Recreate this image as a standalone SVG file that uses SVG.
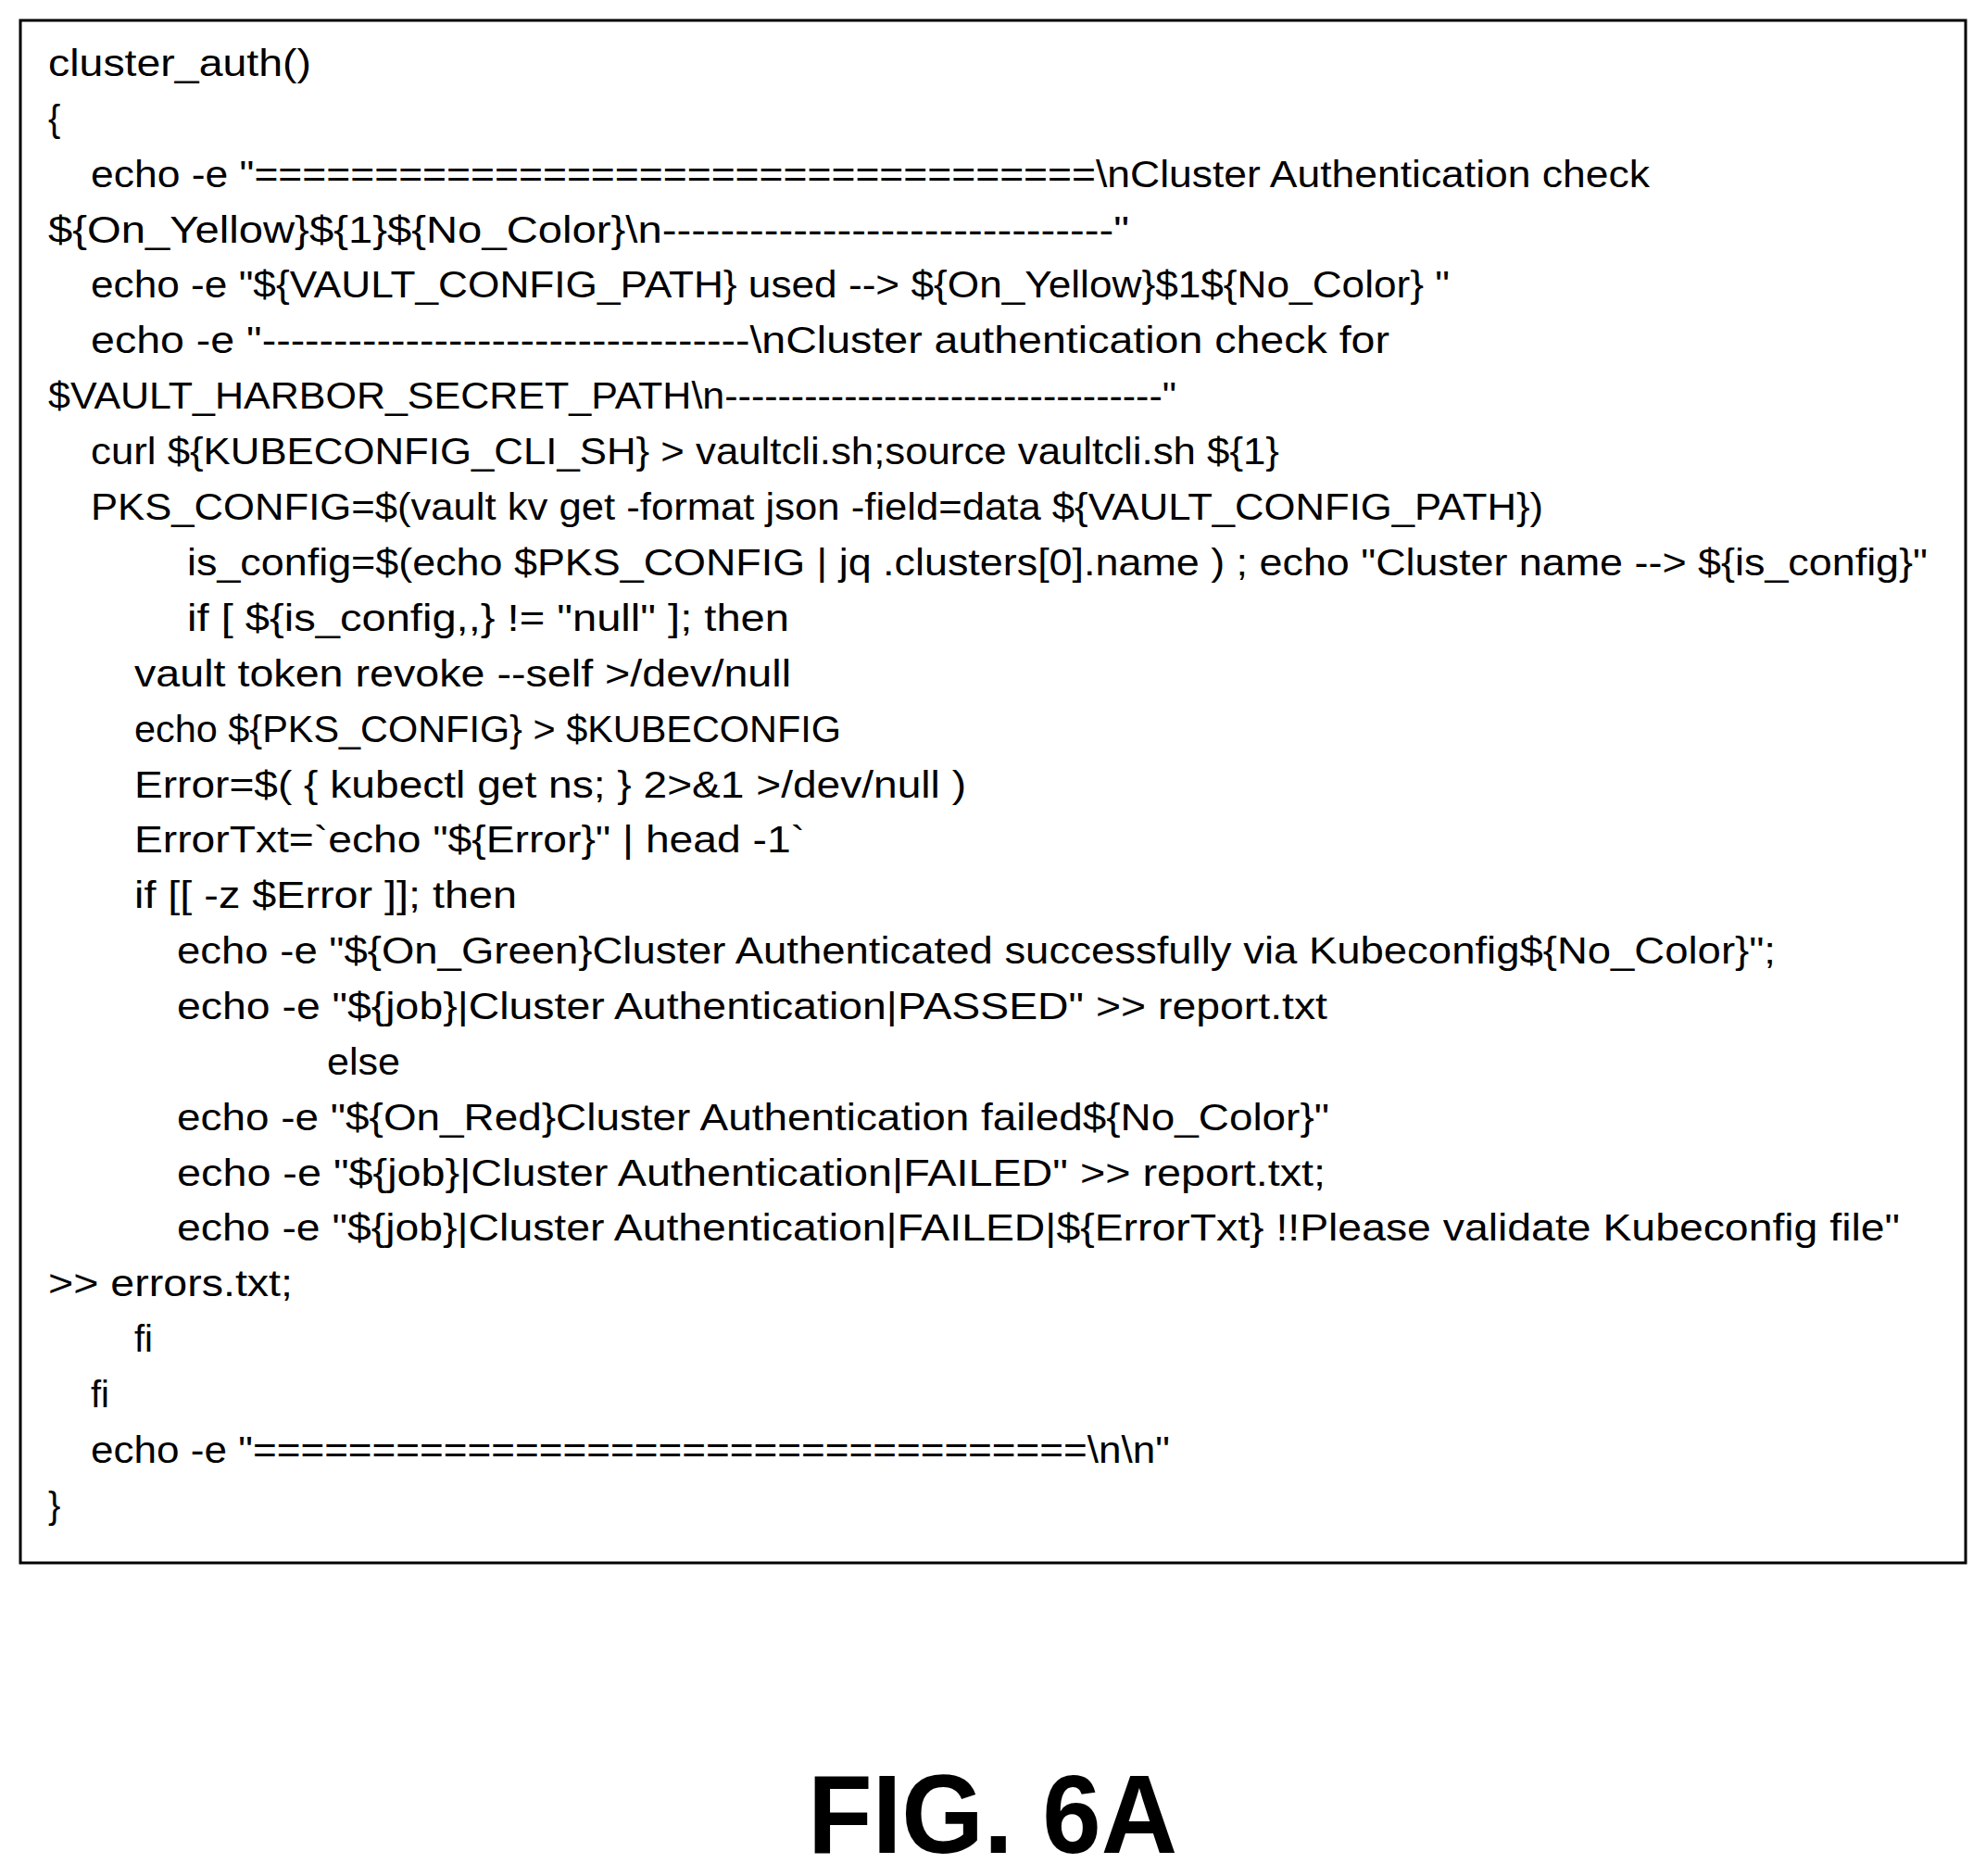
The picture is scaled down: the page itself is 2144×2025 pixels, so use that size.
<svg xmlns="http://www.w3.org/2000/svg" width="2144" height="2025" viewBox="0 0 2144 2025">
<style>
.c{font-family:"Liberation Sans",Arial,sans-serif;font-size:40px;fill:#000}
.f{font-family:"Liberation Sans",Arial,sans-serif;font-size:120px;font-weight:bold;fill:#000}
</style>
<rect width="2144" height="2025" fill="#fff"/>
<g id="code-box">
<rect x="22" y="22" width="2100" height="1665" fill="none" stroke="#000" stroke-width="3"/>
<text class="c" x="52" y="82" textLength="284" lengthAdjust="spacingAndGlyphs">cluster_auth()</text>
<text class="c" x="52" y="142">{</text>
<text class="c" x="98" y="202" textLength="1683" lengthAdjust="spacingAndGlyphs">echo -e "===================================\nCluster Authentication check</text>
<text class="c" x="52" y="262" textLength="1167" lengthAdjust="spacingAndGlyphs">${On_Yellow}${1}${No_Color}\n-------------------------------"</text>
<text class="c" x="98" y="321" textLength="1467" lengthAdjust="spacingAndGlyphs">echo -e "${VAULT_CONFIG_PATH} used --&gt; ${On_Yellow}$1${No_Color} "</text>
<text class="c" x="98" y="381" textLength="1402" lengthAdjust="spacingAndGlyphs">echo -e "----------------------------------\nCluster authentication check for</text>
<text class="c" x="52" y="441" textLength="1218" lengthAdjust="spacingAndGlyphs">$VAULT_HARBOR_SECRET_PATH\n---------------------------------"</text>
<text class="c" x="98" y="501" textLength="1283" lengthAdjust="spacingAndGlyphs">curl ${KUBECONFIG_CLI_SH} &gt; vaultcli.sh;source vaultcli.sh ${1}</text>
<text class="c" x="98" y="561" textLength="1568" lengthAdjust="spacingAndGlyphs">PKS_CONFIG=$(vault kv get -format json -field=data ${VAULT_CONFIG_PATH})</text>
<text class="c" x="202" y="621" textLength="1879" lengthAdjust="spacingAndGlyphs">is_config=$(echo $PKS_CONFIG | jq .clusters[0].name ) ; echo "Cluster name --&gt; ${is_config}"</text>
<text class="c" x="202" y="681" textLength="650" lengthAdjust="spacingAndGlyphs">if [ ${is_config,,} != "null" ]; then</text>
<text class="c" x="145" y="741" textLength="709" lengthAdjust="spacingAndGlyphs">vault token revoke --self &gt;/dev/null</text>
<text class="c" x="145" y="801" textLength="763" lengthAdjust="spacingAndGlyphs">echo ${PKS_CONFIG} &gt; $KUBECONFIG</text>
<text class="c" x="145" y="861" textLength="898" lengthAdjust="spacingAndGlyphs">Error=$( { kubectl get ns; } 2&gt;&amp;1 &gt;/dev/null )</text>
<text class="c" x="145" y="920" textLength="724" lengthAdjust="spacingAndGlyphs">ErrorTxt=`echo "${Error}" | head -1`</text>
<text class="c" x="145" y="980" textLength="413" lengthAdjust="spacingAndGlyphs">if [[ -z $Error ]]; then</text>
<text class="c" x="191" y="1040" textLength="1726" lengthAdjust="spacingAndGlyphs">echo -e "${On_Green}Cluster Authenticated successfully via Kubeconfig${No_Color}";</text>
<text class="c" x="191" y="1100" textLength="1242" lengthAdjust="spacingAndGlyphs">echo -e "${job}|Cluster Authentication|PASSED" &gt;&gt; report.txt</text>
<text class="c" x="353" y="1160" textLength="79" lengthAdjust="spacingAndGlyphs">else</text>
<text class="c" x="191" y="1220" textLength="1244" lengthAdjust="spacingAndGlyphs">echo -e "${On_Red}Cluster Authentication failed${No_Color}"</text>
<text class="c" x="191" y="1280" textLength="1240" lengthAdjust="spacingAndGlyphs">echo -e "${job}|Cluster Authentication|FAILED" &gt;&gt; report.txt;</text>
<text class="c" x="191" y="1339" textLength="1860" lengthAdjust="spacingAndGlyphs">echo -e "${job}|Cluster Authentication|FAILED|${ErrorTxt} !!Please validate Kubeconfig file"</text>
<text class="c" x="52" y="1399" textLength="264" lengthAdjust="spacingAndGlyphs">&gt;&gt; errors.txt;</text>
<text class="c" x="145" y="1459">fi</text>
<text class="c" x="98" y="1519">fi</text>
<text class="c" x="98" y="1579" textLength="1165" lengthAdjust="spacingAndGlyphs">echo -e "===================================\n\n"</text>
<text class="c" x="52" y="1639">}</text>
</g>
<g id="connectors"/>
<g id="caption">
<text class="f" x="872" y="2000" textLength="399" lengthAdjust="spacingAndGlyphs">FIG. 6A</text>
</g>
</svg>
